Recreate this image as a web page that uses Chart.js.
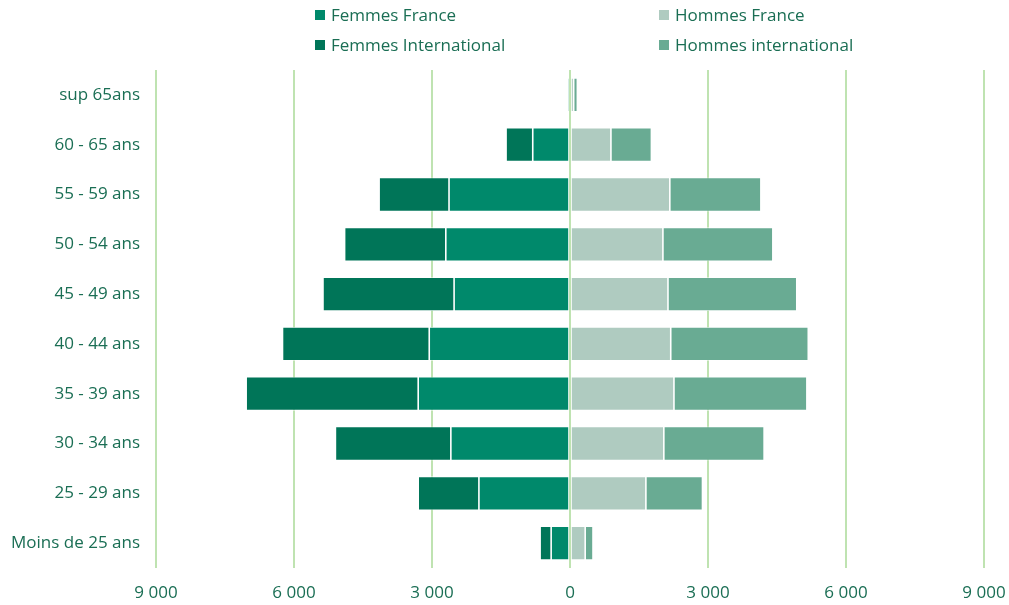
<!DOCTYPE html>
<html>
<head>
<meta charset="utf-8">
<script src="https://cdn.jsdelivr.net/npm/chart.js@4"></script>
<style>
    body { margin: 0; background: #fff; font-family: "Open Sans", sans-serif; }
    #wrap { position: relative; width: 1009px; height: 605px; }
    .leg { position: absolute; font-size: 17px; color: #1a6e54; display: flex; align-items: center; white-space: nowrap; }
    .leg span { display: inline-block; width: 10px; height: 10px; margin-right: 6px; }
</style>
</head>
<body>
<div id="wrap">
    <canvas id="pyramid" width="1009" height="605"></canvas>
    <div class="leg" style="left:315px; top:3px;"><span style="background:#00896b"></span>Femmes France</div>
    <div class="leg" style="left:659px; top:3px;"><span style="background:#afcbc0"></span>Hommes France</div>
    <div class="leg" style="left:315px; top:33px;"><span style="background:#007558"></span>Femmes International</div>
    <div class="leg" style="left:659px; top:33px;"><span style="background:#69ab93"></span>Hommes international</div>
</div>
<script>
const ageGroups = ["sup 65ans", "60 - 65 ans", "55 - 59 ans", "50 - 54 ans", "45 - 49 ans",
    "40 - 44 ans", "35 - 39 ans", "30 - 34 ans", "25 - 29 ans", "Moins de 25 ans"];

const femmesFrance = [60, 810, 2630, 2700, 2520, 3060, 3300, 2590, 1980, 410];
const femmesInternational = [0, 580, 1520, 2200, 2850, 3190, 3740, 2510, 1320, 240];
const hommesFrance = [80, 890, 2170, 2020, 2130, 2190, 2260, 2040, 1650, 330];
const hommesInternational = [80, 880, 1980, 2390, 2800, 2990, 2890, 2180, 1230, 170];

const xTicks = [-9000, -6000, -3000, 0, 3000, 6000, 9000];

const textColor = "#1a6e54";
const fontFamily = "'Open Sans', sans-serif";

function fmt(v) {
    return String(Math.abs(v)).replace(/\B(?=(\d{3})+(?!\d))/g, " ");
}

const ctx = document.getElementById("pyramid");

new Chart(ctx, {
    type: "bar",
    data: {
        labels: ageGroups,
        datasets: [
            {
                label: "Femmes France",
                data: femmesFrance.map((v) => -v),
                backgroundColor: "#00896b",
            },
            {
                label: "Femmes International",
                data: femmesInternational.map((v) => -v),
                backgroundColor: "#007558",
            },
            {
                label: "Hommes France",
                data: hommesFrance,
                backgroundColor: "#afcbc0",
            },
            {
                label: "Hommes international",
                data: hommesInternational,
                backgroundColor: "#69ab93",
            },
        ],
    },
    options: {
        indexAxis: "y",
        responsive: false,
        animation: false,
        layout: { padding: { top: 70, right: 25, left: 0, bottom: 0 } },
        datasets: {
            bar: {
                barPercentage: 0.68,
                categoryPercentage: 1,
                borderColor: "rgba(255,255,255,0.85)",
                borderWidth: 0.8,
                borderSkipped: false,
            },
        },
        plugins: {
            legend: { display: false },
            tooltip: { enabled: false },
        },
        scales: {
            x: {
                stacked: true,
                min: -9000,
                max: 9000,
                afterBuildTicks: (scale) => {
                    scale.ticks = xTicks.map((v) => ({ value: v }));
                },
                afterFit: (scale) => {
                    scale.height = 37;
                    scale.paddingLeft = 0;
                    scale.paddingRight = 0;
                },
                grid: {
                    color: "#bfe3b1",
                    lineWidth: 2,
                    drawTicks: false,
                },
                border: { display: false },
                ticks: {
                    color: textColor,
                    font: { family: fontFamily, size: 17 },
                    padding: 15,
                    callback: (v) => fmt(v),
                },
            },
            y: {
                stacked: true,
                afterFit: (scale) => {
                    scale.width = 156;
                },
                grid: { display: false },
                border: { display: false },
                ticks: {
                    color: textColor,
                    font: { family: fontFamily, size: 17 },
                    padding: 8,
                },
            },
        },
    },
});
</script>
</body>
</html>
